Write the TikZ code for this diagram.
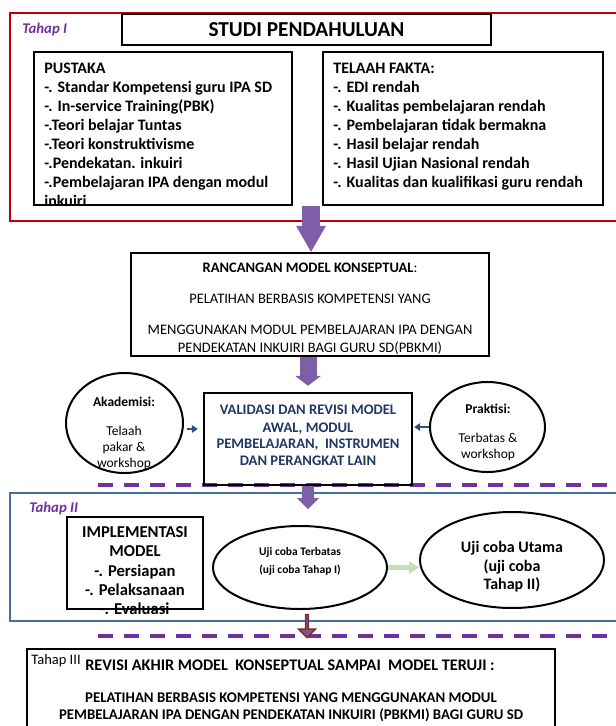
\documentclass[tikz,border=0pt]{standalone}
\usepackage{fontspec}
\setmainfont{Carlito}
\usetikzlibrary{arrows.meta,shapes.geometric,shapes.arrows}
\definecolor{ungu}{HTML}{7030A0}
\definecolor{unguPanah}{HTML}{7E5EA9}
\definecolor{merahBingkai}{HTML}{C00000}
\definecolor{biruBingkai}{HTML}{41719C}
\definecolor{biruTua}{HTML}{1F3864}
\definecolor{biruPanah}{HTML}{2F4F7F}
\definecolor{hijauPanah}{HTML}{C5E0B4}
\definecolor{merahPanah}{HTML}{7B2C2C}
\definecolor{isiPanah}{HTML}{8A4F86}
\tikzset{
Kotak/.style={draw=black, line width=2.4pt, inner sep=0pt},
Elips/.style={ellipse, draw=black, line width=2pt, inner sep=0pt},
Butir/.style={anchor=base west, inner sep=0pt, font=\bfseries\fontsize{16}{19}\selectfont},
Baris/.style={anchor=base, inner sep=0pt},
Label/.style={anchor=base west, inner sep=0pt, text=ungu, font=\bfseries\itshape\fontsize{14.8}{17}\selectfont},
GarisPutus/.style={draw=ungu, line width=3.5pt, dash pattern=on 15pt off 11pt},
PanahUngu/.style n args={3}{draw=unguPanah, line width=#1, -{Triangle[width=#2, length=#3, line width=0pt]}},
PanahBiru/.style={draw=biruPanah, line width=2.2pt, -{Triangle[width=8pt, length=6pt, line width=0pt]}},
PanahHijau/.style={draw=hijauPanah, line width=5pt, -{Triangle[width=13pt, length=10pt, line width=0pt]}}
}
\begin{document}
\begin{tikzpicture}[x=1pt,y=-1pt,thick]
\useasboundingbox (0,0) rectangle (616,726);
\draw[draw=merahBingkai, line width=2pt] (620,13) -- (10,13) -- (10,221) -- (620,221);
\draw[draw=biruBingkai, line width=2pt] (620,493) -- (10,493) -- (10,621) -- (620,621);
\draw[line width=2.4pt] (27,730) -- (27,649) -- (555,649) -- (555,730);
\draw[GarisPutus] (98,485) -- (616,485);
\draw[GarisPutus] (98,636) -- (616,636);

\node[Label] (tahap1) at (22,33) {Tahap I};
\node[Label] (tahap2) at (29,512) {Tahap II};
\node[anchor=base west, inner sep=0pt, font=\fontsize{14.5}{17}\selectfont] (tahap3) at (31,664) {Tahap III};

\foreach \t [count=\i from 0] in {PUSTAKA, -. Standar Kompetensi guru IPA SD, -. In-service Training(PBK), -.Teori belajar Tuntas, -.Teori konstruktivisme, -.Pendekatan. inkuiri, -.Pembelajaran IPA dengan modul, inkuiri}
  \node[Butir] (pus\i) at (44,73.2+19.1*\i) {\t};
\foreach \t [count=\i from 0] in {TELAAH FAKTA:, -. EDI rendah, -. Kualitas pembelajaran rendah, -. Pembelajaran tidak bermakna, -. Hasil belajar rendah, -. Hasil Ujian Nasional rendah, -. Kualitas dan kualifikasi guru rendah}
  \node[Butir] (tel\i) at (333,73.2+19.1*\i) {\t};

\foreach \y/\t [count=\i] in {272/{\textbf{RANCANGAN MODEL KONSEPTUAL}:}, 303/PELATIHAN BERBASIS KOMPETENSI YANG, 334/MENGGUNAKAN MODUL PEMBELAJARAN IPA DENGAN, 352/PENDEKATAN INKUIRI BAGI GURU SD(PBKMI)}
  \node[Baris, font=\fontsize{14.5}{17}\selectfont] (rc\i) at (310,\y) {\t};
\foreach \y/\t [count=\i] in {414/VALIDASI DAN REVISI MODEL, 432/{AWAL, MODUL}, 448/{PEMBELAJARAN,\ \ INSTRUMEN}, 465/DAN PERANGKAT LAIN}
  \node[Baris, text=biruTua, font=\bfseries\fontsize{14.6}{17}\selectfont] (val\i) at (308,\y) {\t};
\foreach \y/\t [count=\i] in {406/\textbf{Akademisi:}, 435/Telaah, 451/pakar \&, 467/workshop}
  \node[Baris, font=\fontsize{13.5}{16}\selectfont] (ak\i) at (124,\y) {\t};
\foreach \y/\t [count=\i] in {413/\textbf{Praktisi:}, 442/Terbatas \&, 458/workshop}
  \node[Baris, font=\fontsize{13.5}{16}\selectfont] (pr\i) at (488,\y) {\t};
\foreach \y/\t [count=\i] in {537.5/IMPLEMENTASI, 556.5/MODEL, 576.5/-. Persiapan, 595.5/-. Pelaksanaan, 614.5/-. Evaluasi}
  \node[Baris, font=\bfseries\fontsize{16.6}{19}\selectfont] (imp\i) at (135,\y) {\t};
\foreach \y/\t [count=\i] in {555/Uji coba Terbatas, 573/(uji coba Tahap I)}
  \node[Baris, font=\bfseries\fontsize{11.5}{14}\selectfont] (uta\i) at (300,\y) {\t};
\foreach \y/\t [count=\i] in {552.5/Uji coba Utama, 571.5/(uji coba, 589.5/Tahap II)}
  \node[Baris, font=\bfseries\fontsize{16}{19}\selectfont] (utb\i) at (512,\y) {\t};
\node[Baris, font=\bfseries\fontsize{16.2}{19}\selectfont] (rev1) at (290,670.5) {REVISI AKHIR MODEL\ \ KONSEPTUAL SAMPAI\ \ MODEL TERUJI :};
\foreach \y/\t [count=\i from 2] in {702/PELATIHAN BERBASIS KOMPETENSI YANG MENGGUNAKAN MODUL, 719/PEMBELAJARAN IPA DENGAN PENDEKATAN INKUIRI (PBKMI) BAGI GURU SD}
  \node[Baris, font=\bfseries\fontsize{14.8}{17}\selectfont] (rev\i) at (291,\y) {\t};

\node[Kotak, minimum width=369, minimum height=31, fill=white, font=\bfseries\fontsize{21.3}{25}\selectfont] (studi) at (306.5,29.5) {STUDI PENDAHULUAN};
\node[Kotak, minimum width=258, minimum height=153] (pus) at (163,128.5) {};
\node[Kotak, minimum width=280, minimum height=153] (tel) at (463,128.5) {};
\node[Kotak, minimum width=358, minimum height=103] (rc) at (310,304.5) {};
\node[Kotak, minimum width=208, minimum height=92] (val) at (308,439) {};
\node[Kotak, minimum width=136, minimum height=92] (imp) at (135,563) {};
\node[Elips, minimum width=117, minimum height=100] (ak) at (124.5,423) {};
\node[Elips, minimum width=115, minimum height=90] (pr) at (487.5,427) {};
\node[Elips, minimum width=174, minimum height=83] (uta) at (300,567.5) {};
\node[Elips, minimum width=184, minimum height=96] (utb) at (512,560) {};

\coordinate (a1) at (311,206);
\coordinate (a3) at (308,509);
\draw[PanahUngu={18pt}{30pt}{26pt}] (a1) -- (a1 |- rc.north);
\draw[PanahUngu={17pt}{26pt}{10pt}] (rc.south -| val.north) -- ([yshift=6pt]val.north);
\draw[PanahUngu={12pt}{22pt}{11pt}] (val.south) -- (a3);
\draw[PanahBiru, shorten <=3pt, shorten >=5pt] ([yshift=-6pt]ak.east) -- ([yshift=-6pt]ak.east -| val.west);
\draw[PanahBiru, shorten >=1pt] (pr.west) -- (pr.west -| val.east);
\draw[PanahHijau] (uta.east) -- (uta.east -| utb.west);
\node[single arrow, shape border rotate=270, draw=merahPanah, fill=isiPanah, line width=1.5pt, minimum height=23, minimum width=17, single arrow head extend=4, inner sep=0pt] (a4) at (307,625.5) {};
\end{tikzpicture}
\end{document}
